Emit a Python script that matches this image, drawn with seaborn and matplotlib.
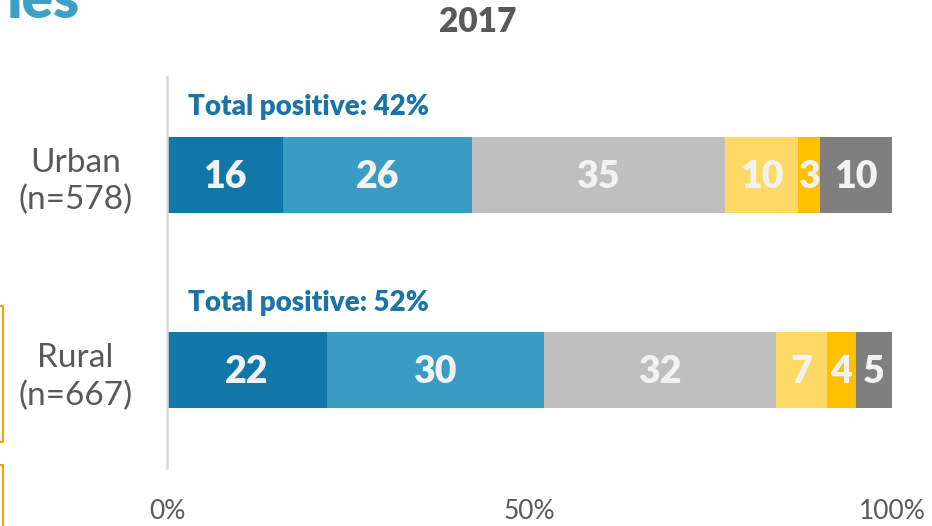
import numpy as np
import pandas as pd
import seaborn as sns
import matplotlib.pyplot as plt
from matplotlib.lines import Line2D

# data
groups = ['Urban\n(n=578)', 'Rural\n(n=667)']
levels = ['Very positive', 'Somewhat positive', 'Neutral',
          'Somewhat negative', 'Very negative', "Don't know"]
urban = [16, 26, 35, 10, 3, 10]
rural = [22, 30, 32, 7, 4, 5]
total_positive = [42, 52]
xticks = [0, 50, 100]

colors = ['#1277a8', '#3a9cc2', '#bfbfbf', '#ffd966', '#ffc000', '#7f7f7f']

sns.set_style('white')
plt.rcParams['font.family'] = ['Lato', 'DejaVu Sans']

df = pd.DataFrame([urban, rural], columns=levels)
df['group'] = groups
cum = df[levels].cumsum(axis=1)

fig = plt.figure(figsize=(9.32, 5.26), dpi=100)
ax = fig.add_axes([167 / 932, 1 - 468 / 526, 725 / 932, 391 / 526])

# stacked bars: draw cumulative totals from the longest to the shortest
for lev, col in reversed(list(zip(levels, colors))):
    sns.barplot(x=cum[lev], y=df['group'], orient='h', color=col,
                width=0.39, linewidth=0, saturation=1, ax=ax)

# value labels inside segments
for i in range(len(groups)):
    left = 0
    for lev in levels:
        v = df.loc[i, lev]
        ax.text(left + v / 2, i + 0.01, str(v), ha='center', va='center',
                color='#f2f2f2', fontsize=27, fontweight='heavy')
        left += v
    ax.text(2.9, i - 0.345, f'Total positive: {total_positive[i]}%',
            ha='left', va='center', color='#1a75a6', fontsize=20,
            fontweight='heavy')

ax.set_xlim(0, 100)
ax.set_ylim(1.5, -0.5)
ax.set_xticks(xticks)
ax.set_xticklabels([f'{t}%' for t in xticks])
ax.set_xlabel('')
ax.set_ylabel('')
ax.tick_params(axis='x', length=0, pad=22, labelsize=19, labelcolor='#595959')
ax.tick_params(axis='y', length=0, pad=66, labelsize=24, labelcolor='#595959')
for lab in ax.get_yticklabels():
    lab.set_ha('center')
    lab.set_multialignment('center')
    lab.set_linespacing(1.3)

for s in ['top', 'right', 'bottom']:
    ax.spines[s].set_visible(False)
ax.spines['left'].set_color('#d9d9d9')
ax.spines['left'].set_linewidth(1.8)

fig.text(478 / 932, 1 - 22 / 526, '2017', ha='center', va='center',
         fontsize=24, fontweight='heavy', color='#595959')
fig.text(80 / 932, 1 - 18 / 526, 'ies', ha='right', va='baseline',
         fontsize=42, fontweight='heavy', color='#3aa0c8')

# fragments of the orange boxes at the slide's left edge
orange = '#f5a300'
for xs, ys in [([0, 3, 3, 0], [306, 306, 442, 442]),
               ([0, 3, 3], [465, 465, 530])]:
    fig.add_artist(Line2D([x / 932 for x in xs], [1 - y / 526 for y in ys],
                          color=orange, lw=1.5))

fig.savefig('out.png', dpi=100)
